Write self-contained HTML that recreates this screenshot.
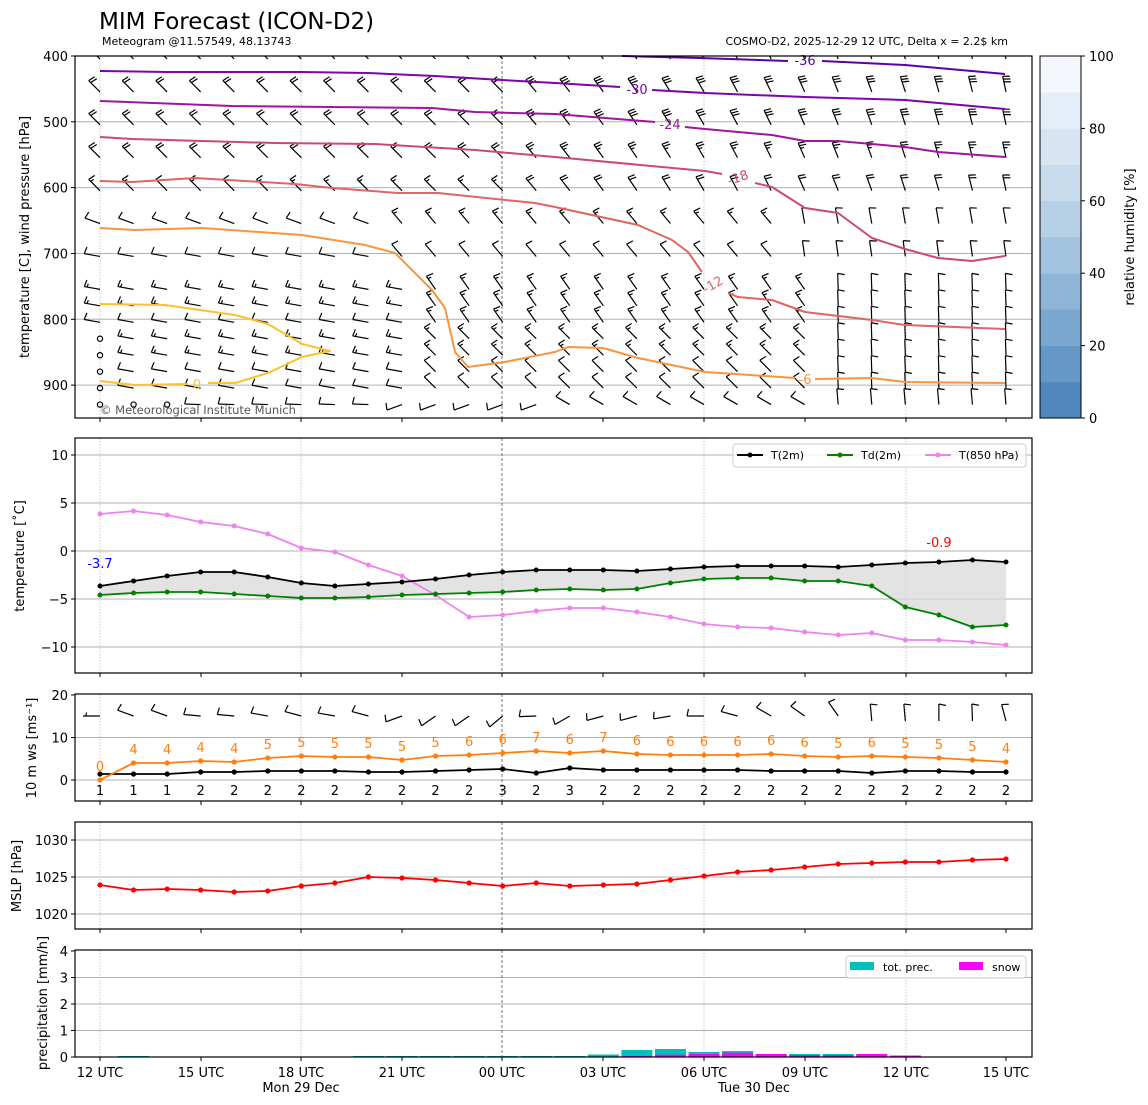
<!DOCTYPE html>
<html><head><meta charset="utf-8"><style>
html,body{margin:0;padding:0;background:#fff;}
svg{display:block;font-family:"DejaVu Sans","Liberation Sans",sans-serif;}
</style></head><body>
<svg id="s" width="1148" height="1105" viewBox="0 0 1148 1105" xmlns="http://www.w3.org/2000/svg">
<defs>
<clipPath id="c1"><rect x="75" y="56" width="957" height="362"/></clipPath>
</defs>
<rect width="1148" height="1105" fill="#fff"/>
<text x="99" y="29" font-size="23">MIM Forecast (ICON-D2)</text>
<text x="102" y="45" font-size="11">Meteogram @11.57549, 48.13743</text>
<text x="1008" y="45" font-size="11" text-anchor="end">COSMO-D2, 2025-12-29 12 UTC, Delta x = 2.2$ km</text>
<g id="g"></g>
</svg>
<script>
var NS="http://www.w3.org/2000/svg",G=document.getElementById('g');
function el(t,a,txt,par){var e=document.createElementNS(NS,t);for(var k in a)e.setAttribute(k,a[k]);if(txt!=null)e.textContent=txt;(par||G).appendChild(e);return e;}
function X(i){return 100+i*906/27;}
var panels=[[56,418],[438,673],[694,801],[822,929],[950,1057]];
var xt=[["12 UTC",100],["15 UTC",201],["18 UTC",301],["21 UTC",402],["00 UTC",502],["03 UTC",603],["06 UTC",704],["09 UTC",805],["12 UTC",906],["15 UTC",1006]];
function hgrid(p,ticks){var P=panels[p];ticks.forEach(function(t){
 if(t[1]>P[0]+1&&t[1]<P[1]-1)el('line',{x1:75,x2:1032,y1:t[1],y2:t[1],stroke:'#b0b0b0','stroke-width':1});
 el('line',{x1:71,x2:75,y1:t[1],y2:t[1],stroke:'#000'});
 el('text',{x:68,y:t[1]+5,'font-size':13,'text-anchor':'end'},t[0]);});}
function vgrid(p){var P=panels[p];[100,301,704,906].forEach(function(x){el('line',{x1:x,x2:x,y1:P[0],y2:P[1],stroke:'#bbb','stroke-width':0.8,'stroke-dasharray':'1.5,1.5'});});
 el('line',{x1:502,x2:502,y1:P[0],y2:P[1],stroke:'#555','stroke-width':0.8,'stroke-dasharray':'3,2'});
 xt.forEach(function(t){el('line',{x1:t[1],x2:t[1],y1:P[1],y2:P[1]+4,stroke:'#000'});});}
function frame(p){var P=panels[p];el('rect',{x:75,y:P[0],width:957,height:P[1]-P[0],fill:'none',stroke:'#000','stroke-width':1.2});}
function pl(pts,c,w,par){el('polyline',{points:pts.map(function(p){return p[0]+','+p[1];}).join(' '),fill:'none',stroke:c,'stroke-width':w||2,'stroke-linejoin':'round'},null,par);}
function barb(x,y,dir,spd,L,par){
 if(spd<2.5){el('circle',{cx:x,cy:y,r:2.6,fill:'none',stroke:'#000','stroke-width':1.2},null,par);return;}
 var r=dir*Math.PI/180,ux=Math.sin(r),uy=-Math.cos(r),px=-uy,py=ux;
 var tx=x+ux*L,ty=y+uy*L,d='M'+x+' '+y+'L'+tx+' '+ty;
 var n=Math.round(spd/5),full=Math.floor(n/2),half=n%2,pos=0;
 for(var k=0;k<full;k++){var bx=tx-ux*pos,by=ty-uy*pos;d+='M'+bx+' '+by+'L'+(bx+px*7-ux*1.5)+' '+(by+py*7-uy*1.5);pos+=2.8;}
 if(half){if(full==0)pos=2.8;var bx=tx-ux*pos,by=ty-uy*pos;d+='M'+bx+' '+by+'L'+(bx+px*3.5-ux*0.8)+' '+(by+py*3.5-uy*0.8);}
 el('path',{d:d,fill:'none',stroke:'#000','stroke-width':1.2},null,par);}
hgrid(0,[["400",56],["500",121.8],["600",187.6],["700",253.5],["800",319.3],["900",385.1]]);
vgrid(0);
var c1=el('g',{'clip-path':'url(#c1)'});
function lerp(a,b,t){return a+(b-a)*t;}
var levels=[400,450,500,550,600,650,700,750,775,800,825,850,875,900,925];
levels.forEach(function(p){var y=56+(p-400)*0.6582+3;
 for(var i=0;i<28;i++){var dir,spd;
  if(p<=550){ if(i<=12){dir=315;spd=20;} else {dir=lerp(320,348,(i-13)/14);spd=p<=500?30:25;} }
  else if(p==600){ if(i<=12){dir=315;spd=15;} else {dir=lerp(320,348,(i-13)/14);spd=20;} }
  else if(p==650){ if(i<=8){dir=290;spd=10;} else if(i<=20){dir=320;spd=15;} else {dir=350;spd=10;} }
  else if(p==700){ if(i<=8){dir=280;spd=10;} else if(i<=20){dir=320;spd=10;} else {dir=352;spd=10;} }
  else if(p<=800){ if(i<=9){dir=280;spd=p==800?10:15;} else if(i<=21){dir=325;spd=15;} else {dir=358;spd=10;} }
  else if(p<925){ if(i==0){spd=0;dir=0;} else if(i<=9){dir=280;spd=p>=875?10:15;} else if(i<=21){dir=315;spd=p>=875?10:15;} else {dir=358;spd=10;} }
  else { if(i<=2){spd=0;dir=0;} else if(i<=8){dir=272;spd=10;} else if(i<=13){dir=250;spd=10;} else if(i<=21){dir=300;spd=10;} else {dir=355;spd=10;} }
  barb(X(i),y,dir,spd,16,c1);}});
var cont=[
['#5c01a6',[[622,56],[700,58],[788,61]],[[822,61],[905,65],[1005,74]],'-36',805,65,0],
['#7e03a8',[[100,71],[167,72],[234,72],[301,72],[368,73],[435,76],[502,80],[555,83],[620,87]],[[652,90],[705,93],[805,97],[905,100],[1005,109]],'-30',637,94,0],
['#9c179e',[[100,101],[232,106],[432,108],[475,112],[555,114],[655,122]],[[685,127],[705,129],[772,135],[805,141],[838,141],[905,147],[938,152],[1005,157]],'-24',670,129,0],
['#cc4778',[[100,137],[132,139],[275,143],[375,144],[475,150],[555,157],[705,171],[722,174]],[[755,183],[772,187],[805,208],[838,213],[872,238],[905,249],[938,258],[972,261],[1005,256]],'-18',738,182,-20],
['#e16462',[[100,181],[132,182],[195,178],[295,184],[332,188],[398,193],[438,193],[535,203],[555,207],[638,225],[672,240],[688,252],[702,272]],[[728,293],[738,297],[772,300],[805,312],[872,320],[905,325],[1005,329]],'-12',713,289,-30],
['#f89540',[[100,228],[135,230],[202,228],[302,235],[365,245],[395,253],[432,290],[445,308],[455,352],[468,367],[505,362],[555,352],[568,347],[603,348],[638,358],[705,372],[795,378]],[[815,379],[872,378],[905,382],[1005,383]],'-6',805,384,0],
['#fcc12b',[[188,384],[135,385],[100,381]],[[208,383],[235,383],[268,373],[302,357],[330,351],[302,344],[268,324],[235,315],[165,305],[100,304]],'0',197,389,0]];
cont.forEach(function(c){pl(c[1],c[0],2);pl(c[2],c[0],2);
 el('text',{x:c[4],y:c[5],fill:c[0],'font-size':13,'text-anchor':'middle',transform:'rotate('+c[6]+' '+c[4]+' '+(c[5]-4)+')'},c[3]);});
el('text',{x:100,y:414,'font-size':11.5,fill:'#555'},'© Meteorological Institute Munich');
frame(0);
el('text',{x:29,y:237,'font-size':13,'text-anchor':'middle',transform:'rotate(-90 29 237)'},'temperature [C], wind pressure [hPa]');
var cb=['#5088bc','#6598c6','#7aa7cf','#8eb5d8','#a3c3df','#b6d0e6','#c7dbed','#d7e5f3','#e5eef8','#f4f8fc'];
for(var k=0;k<10;k++){el('rect',{x:1040,y:418-(k+1)*36.2,width:41,height:36.4,fill:cb[k]});}
el('rect',{x:1040,y:56,width:41,height:362,fill:'none',stroke:'#000','stroke-width':1});
for(var k=0;k<=5;k++){var y=418-k*72.4;el('line',{x1:1081,x2:1085,y1:y,y2:y,stroke:'#000'});el('text',{x:1089,y:y+5,'font-size':13},String(k*20));}
el('text',{x:1134,y:237,'font-size':13,'text-anchor':'middle',transform:'rotate(-90 1134 237)'},'relative humidity [%]');
hgrid(1,[["10",455],["5",503],["0",551],["\u221210",647],["\u22125",599]]);
vgrid(1);
var T=[586,581,576,572,572,577,583,586,584,582,579,575,572,570,570,570,571,569,567,566,566,566,567,565,563,562,560,562];
var Td=[595,593,592,592,594,596,598,598,597,595,594,593,592,590,589,590,589,583,579,578,578,581,581,586,607,615,627,625];
var T8=[514,511,515,522,526,534,548,552,565,576,595,617,615,611,608,608,612,617,624,627,628,632,635,633,640,640,642,645];
var poly=[];for(var i=0;i<28;i++)poly.push(X(i)+','+T[i]);for(var i=27;i>=0;i--)poly.push(X(i)+','+Td[i]);
el('polygon',{points:poly.join(' '),fill:'#d9d9d9','fill-opacity':0.75,stroke:'none'});
function series(v,c,w,r){pl(v.map(function(y,i){return[X(i),y];}),c,w);v.forEach(function(y,i){el('circle',{cx:X(i),cy:y,r:r,fill:c});});}
series(T8,'#ee82ee',1.8,2.5);series(Td,'#008000',1.8,2.5);series(T,'#000',1.8,2.5);
el('text',{x:100,y:568,'font-size':13,fill:'#0000ff','text-anchor':'middle'},'-3.7');
el('text',{x:939,y:547,'font-size':13,fill:'#ff0000','text-anchor':'middle'},'-0.9');
el('rect',{x:733,y:444,width:293,height:23,rx:3,fill:'#fff','fill-opacity':0.8,stroke:'#ccc'});
[['#000','T(2m)',737],['#008000','Td(2m)',827],['#ee82ee','T(850 hPa)',925]].forEach(function(l){
 el('line',{x1:l[2],x2:l[2]+26,y1:455,y2:455,stroke:l[0],'stroke-width':2});el('circle',{cx:l[2]+13,cy:455,r:2.5,fill:l[0]});
 el('text',{x:l[2]+34,y:459,'font-size':11},l[1]);});
frame(1);
el('text',{x:24,y:556,'font-size':13,'text-anchor':'middle',transform:'rotate(-90 24 556)'},'temperature [\u02daC]');
hgrid(2,[["0",780],["10",737.5],["20",695]]);
vgrid(2);
var dirs=[270,290,290,275,275,280,285,280,285,250,235,235,230,268,240,255,255,260,270,285,300,305,325,355,355,360,358,345];
var sp=[5,10,10,10,10,10,10,10,10,10,10,10,10,10,10,10,10,10,10,10,10,10,10,10,10,10,10,10];
for(var i=0;i<28;i++)barb(X(i),dirs[i]>330?721:716,dirs[i],sp[i],17);
var G1=[780,763,763,761,762,758,756,757,757,760,756,755,753,751,753,751,754,755,755,755,754,756,757,756,757,758,760,762];
var G1l=[0,4,4,4,4,5,5,5,5,5,5,6,6,7,6,7,6,6,6,6,6,6,5,6,5,5,5,4];
var W=[774,774,774,772,772,771,771,771,772,772,771,770,769,773,768,770,770,770,770,770,771,771,771,773,771,771,772,772];
var Wl=[1,1,1,2,2,2,2,2,2,2,2,2,3,2,3,2,2,2,2,2,2,2,2,2,2,2,2,2];
series(W,'#000',1.8,2.6);series(G1,'#ff7f0e',1.8,2.6);
for(var i=0;i<28;i++){el('text',{x:X(i),y:G1[i]-9,'font-size':13,fill:'#ff7f0e','text-anchor':'middle'},String(G1l[i]));
 el('text',{x:X(i),y:795,'font-size':13,'text-anchor':'middle'},String(Wl[i]));}
frame(2);
el('text',{x:36,y:748,'font-size':13,'text-anchor':'middle',transform:'rotate(-90 36 748)'},'10 m ws [ms\u207B\u00B9]');
hgrid(3,[["1020",914],["1025",877],["1030",840]]);
vgrid(3);
var M=[885,890,889,890,892,891,886,883,877,878,880,883,886,883,886,885,884,880,876,872,870,867,864,863,862,862,860,859];
series(M,'#ff0000',1.8,2.6);
frame(3);
el('text',{x:21,y:876,'font-size':13,'text-anchor':'middle',transform:'rotate(-90 21 876)'},'MSLP [hPa]');
hgrid(4,[["0",1057],["1",1030.5],["2",1004],["3",977.5],["4",951]]);
vgrid(4);
var tp={1:1,8:1,9:1,10:1,11:1,12:1,13:1,14:1,15:2.5,16:7,17:8,18:5,19:6,20:3,21:3,22:3,23:3,24:1.5};
var sn={16:1,17:2.3,18:3,19:4.3,20:3,21:2,22:2,23:3,24:1.5};
for(var k in tp){var x=X(+k);el('rect',{x:x-15.5,y:1057-tp[k],width:31,height:tp[k],fill:'#00bfbf'});}
for(var k in sn){var x=X(+k);el('rect',{x:x-15.5,y:1057-sn[k],width:31,height:sn[k],fill:'#ff00ff'});}
el('rect',{x:846,y:956,width:180,height:22,rx:3,fill:'#fff','fill-opacity':0.8,stroke:'#ccc'});
el('rect',{x:850,y:962,width:24,height:8,fill:'#00bfbf'});el('text',{x:883,y:971,'font-size':11},'tot. prec.');
el('rect',{x:959,y:962,width:24,height:8,fill:'#ff00ff'});el('text',{x:992,y:971,'font-size':11},'snow');
frame(4);
el('text',{x:47,y:1003,'font-size':13,'text-anchor':'middle',transform:'rotate(-90 47 1003)'},'precipitation [mm/h]');
xt.forEach(function(t){el('text',{x:t[1],y:1077,'font-size':13,'text-anchor':'middle'},t[0]);});
el('text',{x:301,y:1092,'font-size':13,'text-anchor':'middle'},'Mon 29 Dec');
el('text',{x:754,y:1092,'font-size':13,'text-anchor':'middle'},'Tue 30 Dec');
</script>
</body></html>
